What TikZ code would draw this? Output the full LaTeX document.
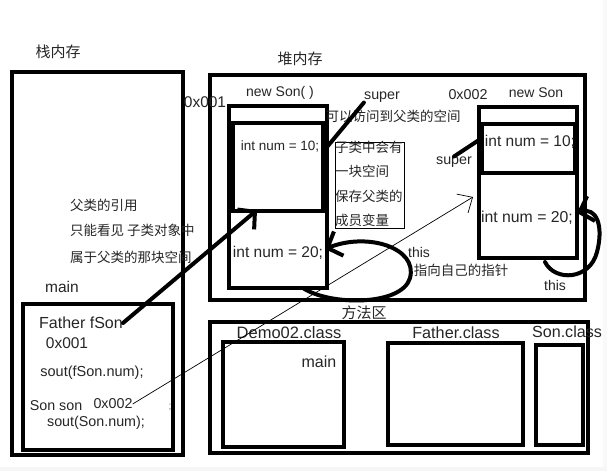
\documentclass[tikz,border=0pt]{standalone}
\usepackage{fontspec}
\setmainfont{Liberation Sans}
\newfontfamily\cjk{Noto Sans CJK SC}
\usetikzlibrary{arrows.meta}
\newcommand{\sz}[1]{\fontsize{#1}{#1}\selectfont}

\begin{document}
\begin{tikzpicture}[x=1pt, y=-1pt,
    box/.style={line width=4pt},
    thinbox/.style={line width=0.8pt},
    lbl/.style={inner sep=0pt, text=black!85},
    zh/.style={inner sep=0pt, text=black!85},
    pointer/.style={line width=4pt, line cap=round, -{Straight Barb[length=12pt, width=26pt, line width=4pt]}},
    thinptr/.style={line width=0.7pt, -{Straight Barb[length=12pt, width=22pt, line width=0.7pt]}}]

    \useasboundingbox (0,0) rectangle (607,471);
    \fill[white] (0,0) rectangle (607,471);
    % screenshot edges
    \fill[gray!7] (0,467) rectangle (607,471);
    \fill[gray!5] (603,0) rectangle (607,467);

    % Stack memory
    \node[zh, font=\cjk\sz{15}] (stacklbl) at (58,52) {栈内存};
    \draw[box] (12,72) rectangle (183,455);
    \node[zh, font=\cjk\sz{13.5}, anchor=west] (ref1) at (70,205) {父类的引用};
    \node[zh, font=\cjk\sz{13.5}, anchor=west] (ref2) at (70,230) {只能看见 子类对象中};
    \node[zh, font=\cjk\sz{13.5}, anchor=west] (ref3) at (70,257) {属于父类的那块空间};
    \node[lbl, font=\sz{15.5}] (mainlbl) at (62,287) {main};
    \draw[box] (23,304) rectangle (173,450);
    \node[lbl, font=\sz{16}] (fson) at (81,323) {Father fSon};
    \node[lbl, font=\sz{15.5}] (addr1) at (67,343) {0x001};
    \node[lbl, font=\sz{14.5}] (sout1) at (92,373) {sout(fSon.num);};
    \node[lbl, font=\sz{14.3}] (sonvar) at (56,406) {Son son};
    \node[lbl, font=\sz{14.3}] (addr2) at (113,404) {0x002};
    \node[lbl, font=\sz{14.3}] (sout2) at (96,423) {sout(Son.num);};
    \node[lbl, font=\sz{10}, text=black!50] (semi) at (170,407) {;};

    % Heap memory
    \node[zh, font=\cjk\sz{15}] (heaplbl) at (300,59) {堆内存};
    \draw[box] (210,75) rectangle (585,300);

    % first Son object
    \node[lbl, font=\sz{15.5}] (heapaddr1) at (205,102) {0x001};
    \node[lbl, font=\sz{14}] (newson1) at (280,93) {new Son( )};
    \draw[box] (229,106) rectangle (327,288);
    \draw[box] (229,123) -- (327,123);
    \draw[box] (233,123) rectangle (323,211);
    \draw[line width=3pt] (233,123) -- (233,211);
    \node[lbl, font=\sz{13.5}] (num1a) at (280,146) {int num = 10;};
    \node[lbl, font=\sz{15.5}] (num1b) at (278,253) {int num = 20;};
    \node[lbl, font=\sz{14.3}] (super1) at (382,97) {super};
    \node[zh, font=\cjk\sz{13.5}] (supernote) at (393,116) {可以访问到父类的空间};
    \draw[thinbox] (335,142) rectangle (404,228);
    \node[zh, font=\cjk\sz{13.5}, anchor=west] (note1) at (335,147) {子类中会有};
    \node[zh, font=\cjk\sz{13.5}, anchor=west] (note2) at (335,171) {一块空间};
    \node[zh, font=\cjk\sz{13.5}, anchor=west] (note3) at (335,196) {保存父类的};
    \node[zh, font=\cjk\sz{13.5}, anchor=west] (note4) at (335,220) {成员变量};
    \node[lbl, font=\sz{14}] (this1) at (419,252) {this};
    \node[zh, font=\cjk\sz{13.5}] (thisnote) at (461,270) {指向自己的指针};

    % second Son object
    \node[lbl, font=\sz{14.3}] (heapaddr2) at (468,95) {0x002};
    \node[lbl, font=\sz{14}] (newson2) at (536,93) {new Son};
    \draw[box] (479,107) rectangle (577,258);
    \draw[box] (479,124) -- (577,124);
    \draw[box] (482,124) rectangle (575,173);
    \node[lbl, font=\sz{15.5}] (num2a) at (530,142) {int num = 10;};
    \node[lbl, font=\sz{15.8}] (num2b) at (527,218) {int num = 20;};
    \node[lbl, font=\sz{14.3}] (super2) at (454,162) {super};
    \node[lbl, font=\sz{14}] (this2) at (555,285) {this};

    % Method area
    \node[zh, font=\cjk\sz{15}] (methodlbl) at (364,313) {方法区};
    \draw[box] (210,322) rectangle (588,453);
    \node[lbl, font=\sz{16.5}] (demolbl) at (289,333) {Demo02.class};
    \draw[box] (223,342) rectangle (344,447);
    \node[lbl, font=\sz{16}] (demomain) at (319,362) {main};
    \node[lbl, font=\sz{16.2}] (fatherlbl) at (456,333) {Father.class};
    \draw[box] (388,343) rectangle (523,445);
    \node[lbl, font=\sz{16.1}] (sonlbl) at (567,332) {Son.class};
    \draw[box] (536,345) rectangle (583,445);

    % pointers
    \coordinate (obj1sup) at (257,210);
    \coordinate (obj1edge) at (327,147);
    \coordinate (obj2sup) at (482,138);
    \coordinate (obj2ref) at (473,197);
    \coordinate (loop1) at (303,288);
    \coordinate (loop1tip) at (325,249);
    \coordinate (loop2) at (545,262);
    \coordinate (loop2tip) at (577,213);

    \draw[pointer] (fson.east) -- (obj1sup);
    \draw[box, line cap=round] (obj1edge) -- (super1.south west);
    \draw[box, line cap=round] (super2.north) -- (obj2sup);
    \draw[thinptr] (addr2.east) -- (obj2ref);
    \draw[pointer] (loop1) .. controls (330,306) and (402,306) .. (410,278)
        .. controls (418,248) and (368,232) .. (loop1tip);
    \draw[pointer] (loop2) .. controls (555,282) and (590,280) .. (597,252)
        .. controls (604,225) and (596,207) .. (loop2tip);

\end{tikzpicture}
\end{document}
